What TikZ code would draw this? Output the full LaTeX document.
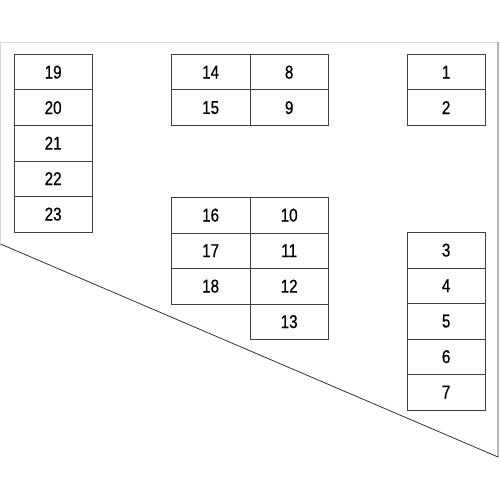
\documentclass[tikz,border=0pt]{standalone}
\usepackage{fontspec}
\setmainfont{Liberation Sans}
\newfontfamily\cellfont[FakeStretch=0.82,FakeBold=0.7]{Liberation Sans}
\begin{document}
\begin{tikzpicture}[x=1pt,y=-1pt,
  cell/.style={draw=black!75,line width=0.8pt,minimum width=78.5pt,minimum height=35.5pt,inner sep=0pt,anchor=north west,font=\cellfont\fontsize{18.5}{20}\selectfont},
  lightedge/.style={draw=black!15,line width=0.8pt},
  edge/.style={draw=black!80,line width=0.8pt}]
\useasboundingbox (0,0) rectangle (499,500);
\coordinate (tl) at (0.5,42);
\coordinate (tr) at (498,42);
\coordinate (dl) at (0.5,244);
\coordinate (br) at (498,457);
\draw[lightedge] (dl) -- (tl) -- (tr);
\draw[edge] (tr) -- (br) -- (dl);
% left column
\foreach \n [count=\i from 0] in {19,20,21,22,23}
  \node[cell] (c\n) at (13.5,54+35.5*\i) {\n};
% top middle
\node[cell] (c14) at (171,54) {14};
\node[cell] (c15) at (171,89.5) {15};
\node[cell] (c8) at (249.5,54) {8};
\node[cell] (c9) at (249.5,89.5) {9};
% top right
\node[cell] (c1) at (406.5,54) {1};
\node[cell] (c2) at (406.5,89.5) {2};
% middle group
\foreach \n [count=\i from 0] in {16,17,18}
  \node[cell] (c\n) at (171,197+35.5*\i) {\n};
\foreach \n [count=\i from 0] in {10,11,12,13}
  \node[cell] (c\n) at (249.5,197+35.5*\i) {\n};
% right column
\foreach \n [count=\i from 0] in {3,4,5,6,7}
  \node[cell] (c\n) at (406.5,232+35.5*\i) {\n};
\end{tikzpicture}
\end{document}
